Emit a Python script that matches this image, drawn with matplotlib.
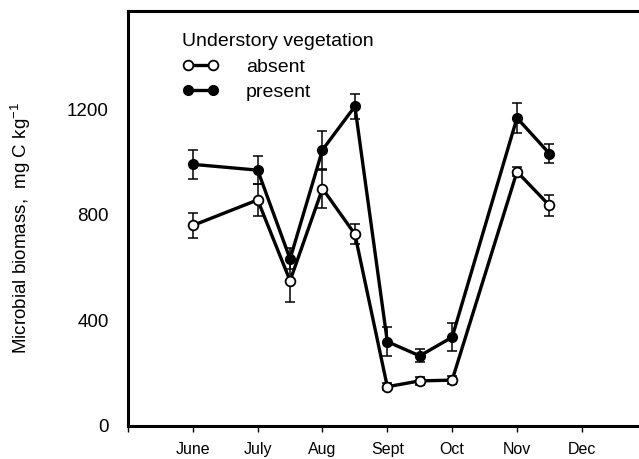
import matplotlib
matplotlib.use("Agg")
import matplotlib.pyplot as plt

plt.rcParams['font.family'] = ['Liberation Sans', 'DejaVu Sans']
plt.rcParams['mathtext.default'] = 'regular'

# sampling dates, in month units (June = 1 ... Dec = 7)
months = ['June', 'July', 'Aug', 'Sept', 'Oct', 'Nov', 'Dec']
x_pos = [1, 2, 2.5, 3, 3.5, 4, 4.5, 5, 6, 6.5]

absent = [760, 857, 550, 900, 727, 148, 170, 173, 964, 836]
absent_err = [46, 60, 82, 72, 37, 13, 14, 14, 17, 40]
present = [992, 970, 633, 1047, 1212, 319, 265, 336, 1168, 1033]
present_err = [55, 52, 40, 72, 47, 55, 25, 52, 57, 37]

W, H = 639, 459
fig = plt.figure(figsize=(W / 100, H / 100), dpi=100)
# axes run off the right edge, like the cropped original
left, right, bottom, top = 128, 650, 425.7, 11
ax = fig.add_axes([left / W, 1 - bottom / H, (right - left) / W, (bottom - top) / H])

month_px = 64.83
ax.set_xlim(0, (right - left) / month_px)
ax.set_ylim(0, 1574)

lw = 2.4
ax.errorbar(x_pos, absent, yerr=absent_err, fmt='none', ecolor='black',
            elinewidth=1.1, capsize=3.4, capthick=1.1, zorder=2)
ax.errorbar(x_pos, present, yerr=present_err, fmt='none', ecolor='black',
            elinewidth=1.1, capsize=3.4, capthick=1.1, zorder=2)
ax.plot(x_pos, absent, '-o', color='black', lw=lw, ms=7, mfc='white',
        mec='black', mew=1.3, label='absent', zorder=3)
ax.plot(x_pos, present, '-o', color='black', lw=lw, ms=7, mfc='black',
        mec='black', label='present', zorder=4)

ax.set_xticks(range(0, 8))
ax.set_xticklabels([''] + months, fontsize=11.5)
ax.set_yticks([0, 400, 800, 1200])
ax.tick_params(axis='x', direction='out', length=4, width=1, pad=8)
ax.tick_params(axis='y', length=0, pad=14, labelsize=13.5)

for s in ['left', 'bottom', 'top']:
    ax.spines[s].set_linewidth(2.2)
ax.spines['right'].set_visible(False)

ax.set_ylabel('Microbial biomass,  mg C kg$^{-1}$', fontsize=13.5)
ax.yaxis.set_label_coords((33 - left) / (right - left), (bottom - 228) / (bottom - top))

leg = ax.legend(title='Understory vegetation', loc='upper left',
                bbox_to_anchor=(172 / W, 1 - 23 / H), bbox_transform=fig.transFigure,
                frameon=False, fontsize=14, title_fontsize=14, numpoints=2,
                handlelength=1.9, handletextpad=1.4, labelspacing=0.42,
                borderpad=0, alignment='left')

fig.savefig('out.png', dpi=100)
